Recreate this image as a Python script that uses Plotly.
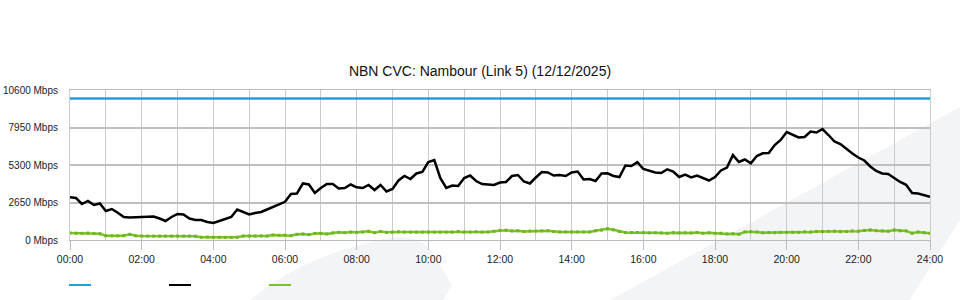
import pandas as pd
import plotly.graph_objects as go

# ---- data -----------------------------------------------------------------
title_text = "NBN CVC: Nambour (Link 5) (12/12/2025)"
times = pd.date_range("2025-12-12 00:00", "2025-12-13 00:00", freq="10min")

capacity_mbps = 10000

# black series (Mbps), 10-minute samples, 6 per hour
traffic_mbps = [
    3017, 2968, 2544, 2756, 2473, 2579,   # 00
    2049, 2191, 1929, 1625, 1590, 1604,   # 01
    1660, 1640, 1660, 1519, 1343, 1625,   # 02
    1837, 1802, 1519, 1413, 1413, 1272,   # 03
    1201, 1343, 1484, 1625, 2155, 1979,   # 04
    1802, 1908, 1979, 2155, 2332, 2544,   # 05
    2700, 3251, 3286, 4000, 3922, 3321,   # 06
    3675, 3957, 3957, 3639, 3675, 3922,   # 07
    3724, 3675, 3887, 3533, 3887, 3427,   # 08
    3604, 4205, 4523, 4311, 4699, 4805,   # 09
    5512, 5653, 4381, 3675, 3851, 3816,   # 10
    4381, 4558, 4169, 3957, 3922, 3887,   # 11
    4063, 4099, 4523, 4593, 4134, 3993,   # 12
    4417, 4805, 4770, 4558, 4593, 4523,   # 13
    4770, 4841, 4275, 4311, 4169, 4699,   # 14
    4713, 4523, 4452, 5265, 5229, 5500,   # 15
    5017, 4876, 4770, 4735, 4996, 4841,   # 16
    4452, 4615, 4417, 4558, 4381, 4205,   # 17
    4452, 4911, 5123, 6000, 5512, 5689,   # 18
    5420, 5936, 6127, 6148, 6713, 7067,   # 19
    7632, 7420, 7243, 7279, 7667, 7597,   # 20
    7844, 7420, 6961, 6784, 6431, 6113,   # 21
    5830, 5618, 5194, 4876, 4699, 4664,   # 22
    4381, 4100, 3900, 3321, 3286, 3180,   # 23
    3060,                                 # 24:00
]

# green series (Mbps)
upload_mbps = [
    500, 480, 470, 490, 450, 440,
    300, 290, 290, 300, 400, 300,
    280, 280, 280, 280, 280, 280,
    280, 280, 280, 270, 190, 210,
    190, 190, 190, 190, 200, 280,
    280, 280, 290, 280, 350, 330,
    340, 300, 400, 420, 380, 460,
    470, 430, 500, 540, 520, 560,
    540, 560, 620, 520, 600, 540,
    560, 580, 560, 560, 560, 560,
    560, 560, 560, 560, 560, 600,
    560, 560, 580, 560, 570, 620,
    680, 690, 640, 650, 600, 630,
    630, 640, 650, 600, 570, 570,
    570, 570, 570, 570, 650, 700,
    790, 720, 600, 530, 520, 530,
    520, 500, 510, 500, 480, 520,
    500, 510, 500, 530, 480, 510,
    470, 480, 430, 440, 410, 570,
    590, 560, 510, 530, 520, 540,
    540, 550, 540, 580, 560, 600,
    600, 610, 620, 590, 600, 640,
    620, 680, 710, 660, 640, 620,
    700, 650, 640, 480, 560, 520,
    480,
]

y_ticks = [0, 2650, 5300, 7950, 10600]
y_labels = ["0 Mbps", "2650 Mbps", "5300 Mbps", "7950 Mbps", "10600 Mbps"]
x_tick_hours = list(range(0, 25, 2))
x_labels = ["00:00", "02:00", "04:00", "06:00", "08:00", "10:00", "12:00",
            "14:00", "16:00", "18:00", "20:00", "22:00", "24:00"]

colors = {"capacity": "#1ba1e2", "traffic": "#000000", "upload": "#7cc22c"}

# ---- figure ---------------------------------------------------------------
W, H = 960, 300
ML, MR, MT, MB = 70, 30, 90, 60
PW, PH = W - ML - MR, H - MT - MB


def px(x):
    return (x - ML) / PW


def py(y):
    return (H - MB - y) / PH


fig = go.Figure()
fig.add_trace(go.Scatter(x=times, y=[capacity_mbps] * len(times), mode="lines",
                         line=dict(color=colors["capacity"], width=2.5),
                         showlegend=False, hoverinfo="skip"))
fig.add_trace(go.Scatter(x=times, y=traffic_mbps, mode="lines",
                         line=dict(color=colors["traffic"], width=2.5),
                         showlegend=False))
fig.add_trace(go.Scatter(x=times, y=upload_mbps, mode="lines+markers",
                         line=dict(color=colors["upload"], width=2.5),
                         marker=dict(size=3, color="#6fb51f", symbol="square"),
                         showlegend=False))

tickvals = [times[0] + pd.Timedelta(hours=h) for h in x_tick_hours]

wm = "#f3f4f6"
shapes = [
    # background watermark swooshes
    dict(type="path", xref="paper", yref="paper", layer="below",
         path=(f"M {px(574)},{py(320)} L {px(1000)},{py(85)} "
               f"L {px(1000)},{py(156)} L {px(897)},{py(320)} Z"),
         fillcolor=wm, line=dict(width=0)),
    dict(type="path", xref="paper", yref="paper", layer="below",
         path=(f"M {px(245)},{py(305)} Q {px(300)},{py(255)} {px(390)},{py(238)} "
               f"Q {px(418)},{py(234)} {px(432)},{py(252)} L {px(452)},{py(285)} "
               f"L {px(440)},{py(305)} Z"),
         fillcolor=wm, line=dict(width=0)),
]
# legend keys (no text in original)
for i, key in enumerate(["capacity", "traffic", "upload"]):
    x0 = 69 + 100 * i
    shapes.append(dict(type="line", xref="paper", yref="paper",
                       x0=px(x0), x1=px(x0 + 22), y0=py(285), y1=py(285),
                       line=dict(color=colors[key], width=2)))

fig.update_layout(
    width=W, height=H,
    margin=dict(l=ML, r=MR, t=MT, b=MB, autoexpand=False),
    paper_bgcolor="white",
    plot_bgcolor="rgba(0,0,0,0)",
    font=dict(family="Liberation Sans, Arial, sans-serif", size=10.5, color="#222"),
    title=dict(text=title_text, x=0.5, xref="container", xanchor="center",
               y=1 - 71 / H, yanchor="middle",
               font=dict(size=14, color="#111")),
    shapes=shapes,
    showlegend=False,
    xaxis=dict(
        range=[times[0], times[-1]], automargin=False,
        tickmode="array", tickvals=tickvals, ticktext=x_labels,
        ticks="outside", ticklen=9, tickcolor="#bbbbbb", tickwidth=1,
        showgrid=True, gridcolor="#cccccc", gridwidth=1,
        minor=dict(dtick=3600000, tick0=times[0], showgrid=True,
                   gridcolor="#cccccc", gridwidth=1, ticks=""),
        showline=True, linecolor="#bbbbbb", linewidth=1, mirror=True,
        zeroline=False, fixedrange=True,
    ),
    yaxis=dict(
        range=[0, 10600], automargin=False,
        tickmode="array", tickvals=y_ticks, ticktext=y_labels,
        tickfont=dict(size=10),
        ticks="", ticklabelstandoff=9,
        showgrid=True, gridcolor="#bfbfbf", gridwidth=2,
        showline=True, linecolor="#cccccc", linewidth=1, mirror=True,
        zeroline=False, fixedrange=True,
    ),
)

fig.write_html("out.html")
